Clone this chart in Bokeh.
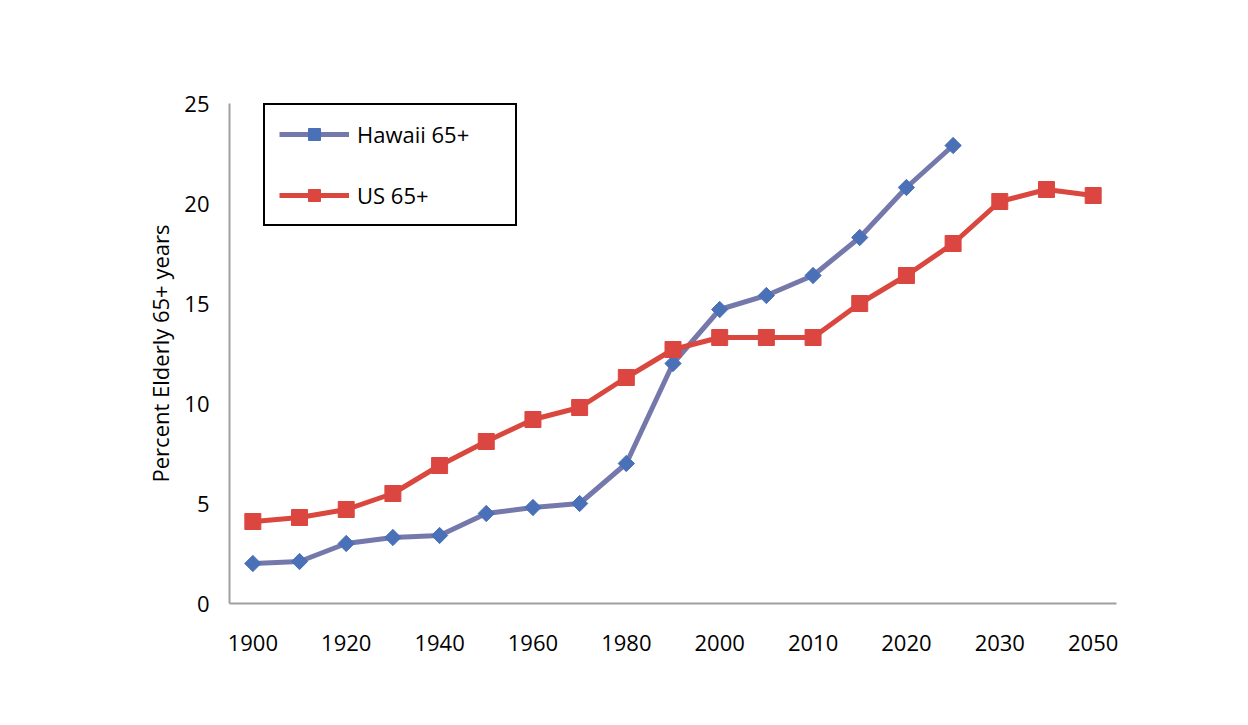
import math
from bokeh.plotting import figure
from bokeh.models import (Range1d, FixedTicker, Legend, LegendItem, ColumnDataSource)
from bokeh.embed import file_html
from bokeh.resources import INLINE

# ---- data ----
years = ["1900", "1910", "1920", "1930", "1940", "1950", "1960", "1970", "1980",
         "1990", "2000", "2005", "2010", "2015", "2020", "2025", "2030", "2040", "2050"]
hawaii_65 = [2.0, 2.1, 3.0, 3.3, 3.4, 4.5, 4.8, 5.0, 7.0, 12.0, 14.7, 15.4, 16.4,
             18.3, 20.8, 22.9]
us_65 = [4.1, 4.3, 4.7, 5.5, 6.9, 8.1, 9.2, 9.8, 11.3, 12.7, 13.3, 13.3, 13.3,
         15.0, 16.4, 18.0, 20.1, 20.7, 20.4]
y_ticks = [0, 5, 10, 15, 20, 25]

FONT = "Open Sans"
idx = list(range(len(years)))

src_h = ColumnDataSource(dict(x=idx[:len(hawaii_65)], y=hawaii_65))
src_u = ColumnDataSource(dict(x=idx[:len(us_65)], y=us_65))

p = figure(width=1240, height=717, output_backend="svg", toolbar_location=None,
           x_range=Range1d(-0.5, len(years) - 0.5), y_range=Range1d(0, 25),
           min_border_left=229, min_border_right=124, min_border_top=103,
           min_border_bottom=114)
p.outline_line_color = None
p.xgrid.visible = False
p.ygrid.visible = False
p.background_fill_color = "white"
p.border_fill_color = "white"

# axes
for ax in (p.xaxis[0], p.yaxis[0]):
    ax.axis_line_color = "#a0a0a0"
    ax.axis_line_width = 2
    ax.major_tick_line_color = None
    ax.minor_tick_line_color = None
    ax.major_tick_out = 0
    ax.major_tick_in = 0
    ax.minor_tick_out = 0
    ax.minor_tick_in = 0
    ax.major_label_text_font = FONT
    ax.major_label_text_font_size = "22px"
    ax.major_label_text_color = "black"

p.xaxis.ticker = FixedTicker(ticks=idx[::2])
p.xaxis.major_label_overrides = {i: years[i] for i in idx[::2]}
p.xaxis.major_label_standoff = 31

p.yaxis.ticker = FixedTicker(ticks=y_ticks)
p.yaxis.major_label_standoff = 20
p.yaxis.axis_label = "Percent Elderly 65+ years"
p.yaxis.axis_label_text_font = FONT
p.yaxis.axis_label_text_font_size = "22px"
p.yaxis.axis_label_text_font_style = "normal"
p.yaxis.axis_label_text_color = "black"
p.yaxis.axis_label_standoff = 6

# series
lh = p.line("x", "y", source=src_h, line_color="#7478aa", line_width=5)
mh = p.scatter("x", "y", source=src_h, marker="square", angle=math.pi / 4, size=11.5,
               fill_color="#4a70b8", line_color="#4a70b8")
lu = p.line("x", "y", source=src_u, line_color="#d9473e", line_width=5)
mu = p.scatter("x", "y", source=src_u, marker="square", size=16,
               fill_color="#db4740", line_color="#db4740")

legend = Legend(items=[LegendItem(label="Hawaii 65+", renderers=[lh, mh]),
                       LegendItem(label="US 65+", renderers=[lu, mu])],
                location=(34, 377))
legend.padding = 14
legend.spacing = 31
legend.glyph_width = 70
legend.glyph_height = 30
legend.label_height = 30
legend.label_width = 144
legend.label_standoff = 8
legend.label_text_font = FONT
legend.label_text_font_size = "22px"
legend.label_text_color = "black"
legend.border_line_color = "black"
legend.border_line_width = 2
legend.border_line_alpha = 1
legend.background_fill_color = "white"
legend.background_fill_alpha = 1
legend.margin = 0
p.add_layout(legend, "center")

open("out.html", "w").write(file_html(p, INLINE))
